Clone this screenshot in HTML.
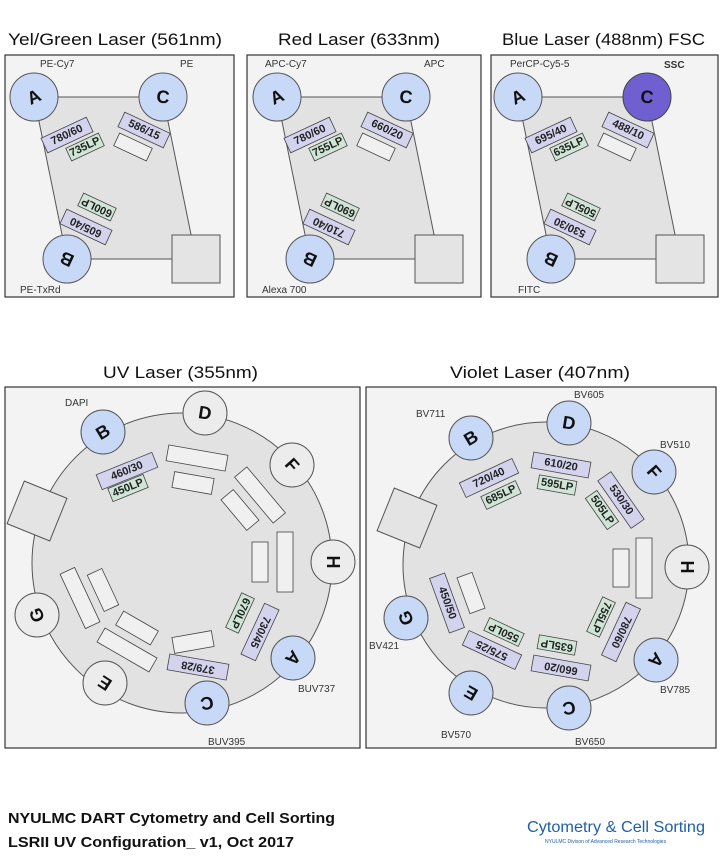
<!DOCTYPE html>
<html><head><meta charset="utf-8"><style>
body{margin:0;background:#fff;}
svg{display:block;font-family:"Liberation Sans",Arial,sans-serif;}
.fr{fill:#f3f3f3;stroke:#333;stroke-width:1.2}
.pg{fill:#e2e2e2;stroke:#555;stroke-width:1}
.bl{fill:#c7d9f7;stroke:#555;stroke-width:1}
.gr{fill:#ececec;stroke:#555;stroke-width:1}
.lv{fill:#d3d3ee;stroke:#444;stroke-width:0.8}
.gn{fill:#cfe6d6;stroke:#444;stroke-width:0.8}
.wb{fill:#f0f0f0;stroke:#444;stroke-width:0.8}
.sq{fill:#e4e4e4;stroke:#555;stroke-width:1}
.ft{font-size:11px;fill:#222;text-anchor:middle;dominant-baseline:central;font-weight:bold}
.dt{font-size:18px;font-weight:bold;fill:#111;text-anchor:middle;dominant-baseline:central}
.lb{font-size:10px;fill:#333}
.tt{font-size:17px;fill:#111}
</style></head><body>
<svg width="720" height="857" viewBox="0 0 720 857">
<text class="tt" x="8" y="45" textLength="214" lengthAdjust="spacingAndGlyphs">Yel/Green  Laser (561nm)</text>
<text class="tt" x="278" y="45" textLength="162" lengthAdjust="spacingAndGlyphs">Red Laser (633nm)</text>
<text class="tt" x="502" y="45" textLength="203" lengthAdjust="spacingAndGlyphs">Blue Laser (488nm) FSC</text>
<text class="tt" x="103" y="378" textLength="155" lengthAdjust="spacingAndGlyphs">UV Laser (355nm)</text>
<text class="tt" x="450" y="378" textLength="180" lengthAdjust="spacingAndGlyphs">Violet Laser (407nm)</text>

<!-- Panel 1 -->
<g>
<rect class="fr" x="5" y="55" width="229" height="242"/>
<polygon class="pg" points="34,97 163,97 196,259 67,259"/>
<rect class="sq" x="172" y="235" width="48" height="48"/>
<circle class="bl" cx="34" cy="97" r="24"/><text class="dt" transform="translate(34,97) rotate(-25)">A</text>
<circle class="bl" cx="163" cy="97" r="24"/><text class="dt" transform="translate(163,97) rotate(5)">C</text>
<circle class="bl" cx="67" cy="259" r="24"/><text class="dt" transform="translate(67,259) rotate(205)">B</text>
<g transform="translate(67,135) rotate(-25)"><rect class="lv" x="-25" y="-8" width="50" height="16"/><text class="ft">780/60</text></g>
<g transform="translate(85,147) rotate(-25)"><rect class="gn" x="-18" y="-7" width="36" height="14"/><text class="ft">735LP</text></g>
<g transform="translate(144,130) rotate(25)"><rect class="lv" x="-25" y="-8" width="50" height="16"/><text class="ft">586/15</text></g>
<g transform="translate(133,147) rotate(25)"><rect class="wb" x="-18" y="-7" width="36" height="14"/></g>
<g transform="translate(97,207) rotate(205)"><rect class="gn" x="-18" y="-7" width="36" height="14"/><text class="ft">600LP</text></g>
<g transform="translate(86,227) rotate(205)"><rect class="lv" x="-25" y="-8" width="50" height="16"/><text class="ft">605/40</text></g>
<text class="lb" x="40" y="67">PE-Cy7</text><text class="lb" x="180" y="67">PE</text><text class="lb" x="20" y="293">PE-TxRd</text>
</g>

<!-- Panel 2 -->
<g transform="translate(243,0)">
<rect class="fr" x="4" y="55" width="234" height="242"/>
<polygon class="pg" points="34,97 163,97 196,259 67,259"/>
<rect class="sq" x="172" y="235" width="48" height="48"/>
<circle class="bl" cx="34" cy="97" r="24"/><text class="dt" transform="translate(34,97) rotate(-25)">A</text>
<circle class="bl" cx="163" cy="97" r="24"/><text class="dt" transform="translate(163,97) rotate(5)">C</text>
<circle class="bl" cx="67" cy="259" r="24"/><text class="dt" transform="translate(67,259) rotate(205)">B</text>
<g transform="translate(67,135) rotate(-25)"><rect class="lv" x="-25" y="-8" width="50" height="16"/><text class="ft">780/60</text></g>
<g transform="translate(85,147) rotate(-25)"><rect class="gn" x="-18" y="-7" width="36" height="14"/><text class="ft">755LP</text></g>
<g transform="translate(144,130) rotate(25)"><rect class="lv" x="-25" y="-8" width="50" height="16"/><text class="ft">660/20</text></g>
<g transform="translate(133,147) rotate(25)"><rect class="wb" x="-18" y="-7" width="36" height="14"/></g>
<g transform="translate(97,207) rotate(205)"><rect class="gn" x="-18" y="-7" width="36" height="14"/><text class="ft">690LP</text></g>
<g transform="translate(86,227) rotate(205)"><rect class="lv" x="-25" y="-8" width="50" height="16"/><text class="ft">710/40</text></g>
<text class="lb" x="22" y="67">APC-Cy7</text><text class="lb" x="181" y="67">APC</text><text class="lb" x="19" y="293">Alexa 700</text>
</g>

<!-- Panel 3 -->
<g transform="translate(484,0)">
<rect class="fr" x="7" y="55" width="227" height="242"/>
<polygon class="pg" points="34,97 163,97 196,259 67,259"/>
<rect class="sq" x="172" y="235" width="48" height="48"/>
<circle class="bl" cx="34" cy="97" r="24"/><text class="dt" transform="translate(34,97) rotate(-25)">A</text>
<circle cx="163" cy="97" r="24" fill="#6f5fd0" stroke="#444"/><text class="dt" transform="translate(163,97) rotate(5)">C</text>
<circle class="bl" cx="67" cy="259" r="24"/><text class="dt" transform="translate(67,259) rotate(205)">B</text>
<g transform="translate(67,135) rotate(-25)"><rect class="lv" x="-25" y="-8" width="50" height="16"/><text class="ft">695/40</text></g>
<g transform="translate(85,147) rotate(-25)"><rect class="gn" x="-18" y="-7" width="36" height="14"/><text class="ft">635LP</text></g>
<g transform="translate(144,130) rotate(25)"><rect class="lv" x="-25" y="-8" width="50" height="16"/><text class="ft">488/10</text></g>
<g transform="translate(133,147) rotate(25)"><rect class="wb" x="-18" y="-7" width="36" height="14"/></g>
<g transform="translate(97,207) rotate(205)"><rect class="gn" x="-18" y="-7" width="36" height="14"/><text class="ft">505LP</text></g>
<g transform="translate(86,227) rotate(205)"><rect class="lv" x="-25" y="-8" width="50" height="16"/><text class="ft">530/30</text></g>
<text class="lb" x="26" y="67">PerCP-Cy5-5</text><text class="lb" x="180" y="68" style="font-weight:bold">SSC</text><text class="lb" x="34" y="293">FITC</text>
</g>

<!-- UV -->
<rect class="fr" x="5" y="387" width="355" height="361"/>
<circle class="pg" cx="182" cy="563" r="150"/>
<g transform="translate(37,511) rotate(22)"><rect class="sq" x="-23" y="-23" width="46" height="46"/></g>
<circle class="bl" cx="103" cy="432" r="22"/><text class="dt" transform="translate(103,432) rotate(-31)">B</text>
<circle class="gr" cx="205" cy="413" r="22"/><text class="dt" transform="translate(205,413) rotate(9)">D</text>
<circle class="gr" cx="292" cy="465" r="22"/><text class="dt" transform="translate(292,465) rotate(48)">F</text>
<circle class="gr" cx="333" cy="562" r="22"/><text class="dt" transform="translate(333,562) rotate(90)">H</text>
<circle class="bl" cx="293" cy="658" r="22"/><text class="dt" transform="translate(293,658) rotate(131)">A</text>
<circle class="bl" cx="207" cy="703" r="22"/><text class="dt" transform="translate(207,703) rotate(170)">C</text>
<circle class="gr" cx="105" cy="683" r="22"/><text class="dt" transform="translate(105,683) rotate(213)">E</text>
<circle class="gr" cx="37" cy="615" r="22"/><text class="dt" transform="translate(37,615) rotate(250)">G</text>
<g transform="translate(127,471) rotate(-22)"><rect class="lv" x="-30" y="-8" width="60" height="16"/><text class="ft">460/30</text></g>
<g transform="translate(128,488) rotate(-22)"><rect class="gn" x="-19" y="-7" width="38" height="14"/><text class="ft">450LP</text></g>
<g transform="translate(197,458) rotate(10)"><rect class="wb" x="-30" y="-8" width="60" height="16"/></g>
<g transform="translate(193,483) rotate(10)"><rect class="wb" x="-20" y="-8" width="40" height="16"/></g>
<g transform="translate(260,495) rotate(50)"><rect class="wb" x="-30" y="-8" width="60" height="16"/></g>
<g transform="translate(240,510) rotate(50)"><rect class="wb" x="-20" y="-8" width="40" height="16"/></g>
<rect class="wb" x="277" y="532" width="16" height="60"/>
<rect class="wb" x="252" y="542" width="16" height="40"/>
<g transform="translate(260,632) rotate(115)"><rect class="lv" x="-28" y="-8" width="56" height="16"/><text class="ft">730/45</text></g>
<g transform="translate(240,613) rotate(115)"><rect class="gn" x="-19" y="-7" width="38" height="14"/><text class="ft">670LP</text></g>
<g transform="translate(198,667) rotate(190)"><rect class="lv" x="-30" y="-8" width="60" height="16"/><text class="ft">379/28</text></g>
<g transform="translate(193,642) rotate(-10)"><rect class="wb" x="-20" y="-8" width="40" height="16"/></g>
<g transform="translate(127,650) rotate(30)"><rect class="wb" x="-30" y="-8" width="60" height="16"/></g>
<g transform="translate(137,628) rotate(30)"><rect class="wb" x="-20" y="-8" width="40" height="16"/></g>
<g transform="translate(80,598) rotate(65)"><rect class="wb" x="-30" y="-8" width="60" height="16"/></g>
<g transform="translate(103,590) rotate(65)"><rect class="wb" x="-20" y="-8" width="40" height="16"/></g>
<text class="lb" x="65" y="406">DAPI</text>
<text class="lb" x="298" y="692">BUV737</text>
<text class="lb" x="208" y="745">BUV395</text>

<!-- Violet -->
<rect class="fr" x="366" y="387" width="350" height="361"/>
<circle class="pg" cx="546" cy="565" r="143"/>
<g transform="translate(407,518) rotate(22)"><rect class="sq" x="-23" y="-23" width="46" height="46"/></g>
<circle class="bl" cx="471" cy="438" r="22"/><text class="dt" transform="translate(471,438) rotate(-31)">B</text>
<circle class="bl" cx="569" cy="423" r="22"/><text class="dt" transform="translate(569,423) rotate(9)">D</text>
<circle class="bl" cx="654" cy="472" r="22"/><text class="dt" transform="translate(654,472) rotate(49)">F</text>
<circle class="gr" cx="687" cy="567" r="22"/><text class="dt" transform="translate(687,567) rotate(90)">H</text>
<circle class="bl" cx="656" cy="660" r="22"/><text class="dt" transform="translate(656,660) rotate(131)">A</text>
<circle class="bl" cx="569" cy="708" r="22"/><text class="dt" transform="translate(569,708) rotate(171)">C</text>
<circle class="bl" cx="471" cy="693" r="22"/><text class="dt" transform="translate(471,693) rotate(210)">E</text>
<circle class="bl" cx="406" cy="618" r="22"/><text class="dt" transform="translate(406,618) rotate(249)">G</text>
<g transform="translate(489,478) rotate(-25)"><rect class="lv" x="-29" y="-8" width="58" height="16"/><text class="ft">720/40</text></g>
<g transform="translate(501,495) rotate(-25)"><rect class="gn" x="-19" y="-7" width="38" height="14"/><text class="ft">685LP</text></g>
<g transform="translate(561,465) rotate(10)"><rect class="lv" x="-29" y="-8" width="58" height="16"/><text class="ft">610/20</text></g>
<g transform="translate(557,485) rotate(10)"><rect class="gn" x="-19" y="-7" width="38" height="14"/><text class="ft">595LP</text></g>
<g transform="translate(621,500) rotate(55)"><rect class="lv" x="-29" y="-8" width="58" height="16"/><text class="ft">530/30</text></g>
<g transform="translate(602,510) rotate(55)"><rect class="gn" x="-19" y="-7" width="38" height="14"/><text class="ft">505LP</text></g>
<rect class="wb" x="636" y="538" width="16" height="60"/>
<rect class="wb" x="613" y="549" width="16" height="38"/>
<g transform="translate(621,632) rotate(115)"><rect class="lv" x="-29" y="-8" width="58" height="16"/><text class="ft">780/60</text></g>
<g transform="translate(601,617) rotate(115)"><rect class="gn" x="-19" y="-7" width="38" height="14"/><text class="ft">755LP</text></g>
<g transform="translate(561,668) rotate(190)"><rect class="lv" x="-29" y="-8" width="58" height="16"/><text class="ft">660/20</text></g>
<g transform="translate(557,645) rotate(190)"><rect class="gn" x="-19" y="-7" width="38" height="14"/><text class="ft">635LP</text></g>
<g transform="translate(492,650) rotate(205)"><rect class="lv" x="-29" y="-8" width="58" height="16"/><text class="ft">575/25</text></g>
<g transform="translate(504,632) rotate(205)"><rect class="gn" x="-19" y="-7" width="38" height="14"/><text class="ft">550LP</text></g>
<g transform="translate(447,603) rotate(70)"><rect class="lv" x="-29" y="-8" width="58" height="16"/><text class="ft">450/50</text></g>
<g transform="translate(471,593) rotate(70)"><rect class="wb" x="-19" y="-8" width="38" height="16"/></g>
<text class="lb" x="416" y="417">BV711</text>
<text class="lb" x="574" y="398">BV605</text>
<text class="lb" x="660" y="448">BV510</text>
<text class="lb" x="369" y="649">BV421</text>
<text class="lb" x="660" y="693">BV785</text>
<text class="lb" x="441" y="738">BV570</text>
<text class="lb" x="575" y="745">BV650</text>

<text x="8" y="823" textLength="327" lengthAdjust="spacingAndGlyphs" style="font-size:15px;font-weight:bold;fill:#111">NYULMC DART Cytometry and Cell Sorting</text>
<text x="8" y="847" textLength="286" lengthAdjust="spacingAndGlyphs" style="font-size:15px;font-weight:bold;fill:#111">LSRII UV  Configuration_ v1, Oct 2017</text>
<text x="527" y="832" textLength="178" lengthAdjust="spacingAndGlyphs" style="font-size:16px;fill:#1f5fa8">Cytometry &amp; Cell Sorting</text>
<text x="545" y="843" style="font-size:5px;fill:#1f5fa8">NYULMC Divison of Advanced Research Technologies</text>
</svg>
</body></html>
